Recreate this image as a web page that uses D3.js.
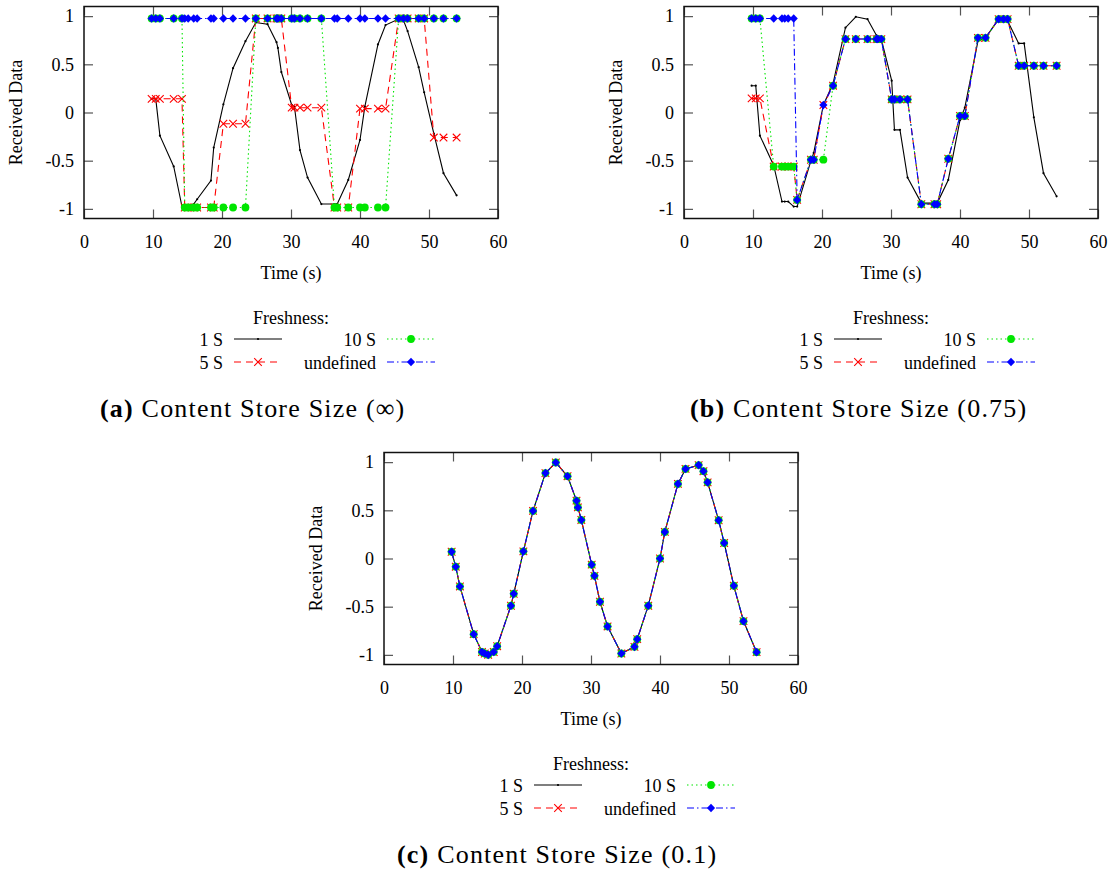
<!DOCTYPE html>
<html><head><meta charset="utf-8">
<script src="https://cdn.jsdelivr.net/npm/d3@7"></script>
<style>body{margin:0;background:#fff}svg{display:block}</style>
</head><body>
<svg id="chart" width="1116" height="876"></svg>
<script>
// ---------- data ----------
const times = [9.8,10.4,11.0,13.0,14.2,14.6,15.1,15.9,16.4,18.4,18.8,20.2,21.6,23.4,24.9,26.6,27.9,28.1,28.6,30.1,30.5,31.3,32.4,34.4,36.3,36.7,38.3,40.0,40.7,42.6,43.7,45.6,46.3,46.9,48.5,49.3,50.7,52.1,54.0];
const xTicks = [0,10,20,30,40,50,60];
const yTicks = [-1,-0.5,0,0.5,1];
const seriesNames = ["1 S","5 S","10 S","undefined"];
const legendTitle = "Freshness:";
const xLabel = "Time (s)";
const yLabel = "Received Data";

// (a) Content Store Size (inf)
const aBlack = [0.142,0.142,-0.24,-0.56,-0.976,-0.976,-0.976,-0.95,-0.9,-0.706,-0.364,0.085,0.46,0.74,0.934,0.917,0.73,0.67,0.42,0.08,0.06,-0.39,-0.675,-0.95,-0.95,-0.95,-0.70,-0.285,0.06,0.706,0.907,0.969,0.958,0.845,0.47,0.21,-0.22,-0.63,-0.86];
const aRed   = [0.142,0.142,0.142,0.142,0.142,-0.986,-0.986,-0.986,-0.986,-0.986,-0.986,-0.117,-0.117,-0.117,0.976,0.976,0.976,0.976,0.976,0.05,0.05,0.05,0.05,0.05,-0.986,-0.986,-0.986,0.04,0.04,0.04,0.04,0.976,0.976,0.976,0.976,0.976,-0.26,-0.26,-0.26];
const aGreen = [0.976,0.976,0.976,0.976,0.976,-0.986,-0.986,-0.986,-0.986,-0.986,-0.986,-0.986,-0.986,-0.986,0.976,0.976,0.976,0.976,0.976,0.976,0.976,0.976,0.976,0.976,-0.986,-0.986,-0.986,-0.986,-0.986,-0.986,-0.986,0.976,0.976,0.976,0.976,0.976,0.976,0.976,0.976];
const aBlue  = [0.976,0.976,0.976,0.976,0.976,0.976,0.976,0.976,0.976,0.976,0.976,0.976,0.976,0.976,0.976,0.976,0.976,0.976,0.976,0.976,0.976,0.976,0.976,0.976,0.976,0.976,0.976,0.976,0.976,0.976,0.976,0.976,0.976,0.976,0.976,0.976,0.976,0.976,0.976];

// (b) Content Store Size (0.75)
const bBlack = [0.278,0.278,-0.24,-0.55,-0.924,-0.924,-0.924,-0.976,-0.976,-0.5,-0.42,0.078,0.3,0.88,0.993,0.969,0.80,0.786,0.76,0.33,-0.18,-0.18,-0.675,-0.94,-0.94,-0.94,-0.70,-0.08,0.05,0.74,0.775,0.969,0.969,0.95,0.717,0.717,-0.05,-0.63,-0.87];
const bRed   = [0.147,0.147,0.147,-0.561,-0.561,-0.561,-0.561,-0.561,-0.907,-0.49,-0.49,0.078,0.278,0.762,0.762,0.762,0.762,0.762,0.762,0.136,0.136,0.136,0.136,-0.952,-0.952,-0.952,-0.48,-0.036,-0.036,0.775,0.775,0.969,0.969,0.969,0.485,0.485,0.485,0.485,0.485];
const bGreen = [0.976,0.976,0.976,-0.561,-0.561,-0.561,-0.561,-0.561,-0.907,-0.49,-0.49,-0.49,0.278,0.762,0.762,0.762,0.762,0.762,0.762,0.136,0.136,0.136,0.136,-0.952,-0.952,-0.952,-0.48,-0.036,-0.036,0.775,0.775,0.969,0.969,0.969,0.485,0.485,0.485,0.485,0.485];
const bBlue  = [0.976,0.976,0.976,0.976,0.976,0.976,0.976,0.976,-0.907,-0.49,-0.49,0.078,0.278,0.762,0.762,0.762,0.762,0.762,0.762,0.136,0.136,0.136,0.136,-0.952,-0.952,-0.952,-0.48,-0.036,-0.036,0.775,0.775,0.969,0.969,0.969,0.485,0.485,0.485,0.485,0.485];

// (c) Content Store Size (0.1) - all four series coincide
const cBlack = [0.07,-0.085,-0.29,-0.785,-0.97,-0.986,-1.0,-0.97,-0.91,-0.49,-0.366,0.074,0.494,0.886,0.996,0.854,0.60,0.53,0.40,-0.064,-0.18,-0.449,-0.705,-0.986,-0.917,-0.837,-0.49,0.0,0.276,0.774,0.93,0.969,0.906,0.79,0.397,0.161,-0.283,-0.65,-0.972];
const cRed   = cBlack.slice();
const cGreen = cBlack.slice();
const cBlue  = cBlack.slice();

const captionLetters = ["(a)","(b)","(c)"];
const captionTexts = [" Content Store Size (\u221E)"," Content Store Size (0.75)"," Content Store Size (0.1)"];

// ---------- layout ----------
const W = 414, H = 212;
const panels = [
  {x0:84,  y0:6.5,   capX:100, series:[aBlack,aRed,aGreen,aBlue]},
  {x0:684, y0:6.5,   capX:690, series:[bBlack,bRed,bGreen,bBlue]},
  {x0:384, y0:452.5, capX:397, series:[cBlack,cRed,cGreen,cBlue]}
];
const styles = [
  {color:"#000000", dash:null,          marker:"dot"},
  {color:"#ff0000", dash:"7,5",         marker:"cross"},
  {color:"#00e600", dash:"1.5,3",       marker:"circle"},
  {color:"#0000ff", dash:"7,3,1.5,3",   marker:"diamond"}
];
const FONT = "'Liberation Serif','Times New Roman',serif";

const svg = d3.select("#chart");

function drawMarker(g, type, color) {
  if (type === "dot") g.append("circle").attr("r",1.1).attr("fill",color);
  else if (type === "cross") g.append("path").attr("d","M-3.8,-3.8L3.8,3.8M-3.8,3.8L3.8,-3.8").attr("stroke",color).attr("stroke-width",1.1).attr("fill","none");
  else if (type === "circle") g.append("circle").attr("r",3.9).attr("fill",color);
  else if (type === "diamond") g.append("path").attr("d","M0,-4.3L4.1,0L0,4.3L-4.1,0Z").attr("fill",color);
}

panels.forEach((p, pi) => {
  const x = d3.scaleLinear().domain([0,60]).range([p.x0, p.x0 + W]);
  const y = d3.scaleLinear().domain([-1.1,1.1]).range([p.y0 + H, p.y0]);
  const g = svg.append("g");

  // axes (inward ticks, mirrored)
  const fmt = d => String(d);
  const axB = g.append("g").attr("transform",`translate(0,${p.y0+H})`)
    .call(d3.axisBottom(x).tickValues(xTicks).tickSize(-9).tickPadding(17).tickFormat(fmt));
  const axT = g.append("g").attr("transform",`translate(0,${p.y0})`)
    .call(d3.axisTop(x).tickValues(xTicks).tickSize(-9).tickFormat(""));
  const axL = g.append("g").attr("transform",`translate(${p.x0},0)`)
    .call(d3.axisLeft(y).tickValues(yTicks).tickSize(-9).tickPadding(10).tickFormat(fmt));
  const axR = g.append("g").attr("transform",`translate(${p.x0+W},0)`)
    .call(d3.axisRight(y).tickValues(yTicks).tickSize(-9).tickFormat(""));
  [axB,axT,axL,axR].forEach(a => {
    a.select(".domain").remove();
    a.selectAll(".tick line").attr("stroke","#555").attr("stroke-width",1.2);
    a.selectAll("text").attr("font-family",FONT).attr("font-size",18).attr("fill","#000");
  });

  // frame
  g.append("rect").attr("x",p.x0).attr("y",p.y0).attr("width",W).attr("height",H)
    .attr("fill","none").attr("stroke","#111").attr("stroke-width",1.5);

  // axis titles
  g.append("text").attr("x",p.x0+W/2).attr("y",p.y0+272.5).attr("text-anchor","middle")
    .attr("font-family",FONT).attr("font-size",18).text(xLabel);
  g.append("text").attr("transform",`translate(${p.x0-62},${p.y0+H/2}) rotate(-90)`)
    .attr("text-anchor","middle").attr("font-family",FONT).attr("font-size",18).text(yLabel);

  // series
  const line = d3.line().x((d,i)=>x(times[i])).y(d=>y(d));
  p.series.forEach((vals, si) => {
    const st = styles[si];
    g.append("path").datum(vals).attr("d",line).attr("fill","none")
      .attr("stroke",st.color).attr("stroke-width",1.1)
      .attr("stroke-dasharray",st.dash);
    const mg = g.append("g");
    vals.forEach((v,i) => {
      const m = mg.append("g").attr("transform",`translate(${x(times[i])},${y(v)})`);
      drawMarker(m, st.marker, st.color);
    });
  });

  // legend
  const lg = g.append("g");
  lg.append("text").attr("x",p.x0+W/2).attr("y",p.y0+317.5).attr("text-anchor","middle")
    .attr("font-family",FONT).attr("font-size",18).text(legendTitle);
  const colX = [139, 292];
  const rowY = [332.5, 355.5];
  const order = [[0,0,0],[1,0,1],[2,1,0],[3,1,1]]; // series, col, row
  order.forEach(([si,c,r]) => {
    const st = styles[si];
    const ty = p.y0 + rowY[r];
    lg.append("text").attr("x",p.x0+colX[c]).attr("y",ty+6.5).attr("text-anchor","end")
      .attr("font-family",FONT).attr("font-size",18).text(seriesNames[si]);
    const lx1 = p.x0+colX[c]+11, lx2 = lx1+48;
    lg.append("line").attr("x1",lx1).attr("x2",lx2).attr("y1",ty).attr("y2",ty)
      .attr("stroke",st.color).attr("stroke-width",1.1).attr("stroke-dasharray",st.dash);
    const m = lg.append("g").attr("transform",`translate(${(lx1+lx2)/2},${ty})`);
    drawMarker(m, st.marker, st.color);
  });

  // caption
  const cap = g.append("text").attr("x",p.capX).attr("y",p.y0+410)
    .attr("font-family",FONT).attr("font-size",26).attr("letter-spacing",1.2);
  cap.append("tspan").attr("font-weight","bold").text(captionLetters[pi]);
  cap.append("tspan").text(captionTexts[pi]);
});
</script>
</body></html>
